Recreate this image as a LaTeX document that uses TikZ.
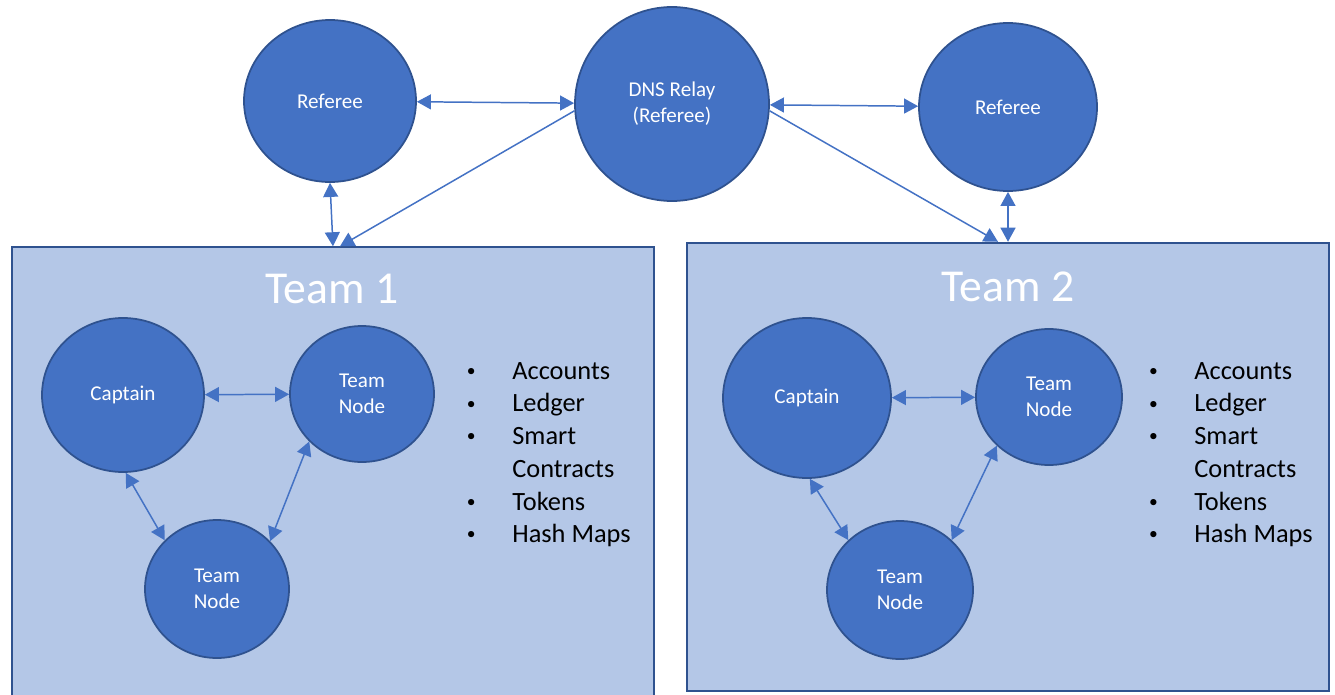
\documentclass[tikz,border=0pt]{standalone}
\usepackage{fontspec}
\setmainfont{Carlito}
\usetikzlibrary{shapes.geometric,arrows.meta}

\definecolor{nodeblue}{HTML}{4472C4}
\definecolor{edgeblue}{HTML}{2F528F}
\definecolor{boxblue}{HTML}{B4C7E7}

\tikzset{
  bubble/.style={ellipse, draw=edgeblue, fill=nodeblue, line width=1pt, inner sep=0pt,
    text=white, align=center, font=\fontsize{12}{15}\selectfont},
  teambox/.style={rectangle, draw=edgeblue, fill=boxblue, line width=1.1pt, inner sep=0pt,
    minimum width=12.84cm, minimum height=8.97cm},
  teamname/.style={inner sep=0pt, text=white, font=\fontsize{26}{30}\selectfont},
  tasks/.style={anchor=north west, inner sep=0pt, align=left, font=\fontsize{15}{18.6}\selectfont},
  link/.style={nodeblue, line width=0.85pt, {Triangle[length=8pt,width=8.5pt]}-{Triangle[length=8pt,width=8.5pt]}},
  oneway/.style={nodeblue, line width=0.85pt, -{Triangle[length=8pt,width=8.5pt]}}
}

\newcommand{\bul}{\makebox[0.96cm][l]{\hspace{1.5pt}\raisebox{1.6pt}{\fontsize{10}{10}\selectfont\textbullet}}}

\begin{document}
\begin{tikzpicture}
\useasboundingbox (0, 0) rectangle (26.7, -13.88);

\node[teambox] (team1) at (6.66, -9.43) {};
\node[teambox] (team2) at (20.16, -9.34) {};
\node[teamname] (name1) at (6.64, -5.78) {Team 1};
\node[teamname] (name2) at (20.16, -5.74) {Team 2};

\node[bubble, minimum width=3.44cm, minimum height=3.24cm] (refL) at (6.60, -2.02) {Referee};
\node[bubble, minimum width=3.88cm, minimum height=3.88cm] (dns) at (13.44, -2.08) {DNS Relay\\(Referee)\vphantom{y}};
\node[bubble, minimum width=3.56cm, minimum height=3.36cm] (refR) at (20.16, -2.14) {Referee};

\node[bubble, minimum width=3.24cm, minimum height=3.08cm] (cap1) at (2.46, -7.90) {Captain};
\node[bubble, minimum width=2.88cm, minimum height=2.72cm] (tn1a) at (7.24, -7.88) {Team\\Node};
\node[bubble, minimum width=2.88cm, minimum height=2.76cm] (tn1b) at (4.34, -11.78) {Team\\Node};

\node[bubble, minimum width=3.36cm, minimum height=3.20cm] (cap2) at (16.14, -7.96) {Captain};
\node[bubble, minimum width=2.92cm, minimum height=2.72cm] (tn2a) at (20.98, -7.94) {Team\\Node};
\node[bubble, minimum width=2.92cm, minimum height=2.76cm] (tn2b) at (18.00, -11.80) {Team\\Node};

\node[tasks] (list1) at (9.28, -7.24) {\bul Accounts\\ \bul Ledger\\ \bul Smart\\ \hspace*{0.96cm}Contracts\\ \bul Tokens\\ \bul Hash Maps};
\node[tasks] (list2) at (22.92, -7.24) {\bul Accounts\\ \bul Ledger\\ \bul Smart\\ \hspace*{0.96cm}Contracts\\ \bul Tokens\\ \bul Hash Maps};

\draw[link] (refL) -- (dns);
\draw[link] (dns) -- (refR);
\draw[link] (refL.south) -- (team1.north);
\draw[oneway] (dns.184) -- ([xshift=0.14cm]team1.north);
\draw[link] (refR.south) -- (team2.north);
\draw[oneway] (dns.-4) -- ([xshift=-0.2cm]team2.north);

\draw[link] (cap1) -- (tn1a);
\draw[link] (cap1.-88) -- (tn1b.137);
\draw[link] (tn1a.222) -- (tn1b.42);
\draw[link] (cap2) -- (tn2a);
\draw[link] (cap2.-88) -- (tn2b.136);
\draw[link] (tn2a.223) -- (tn2b.44);

\end{tikzpicture}
\end{document}
